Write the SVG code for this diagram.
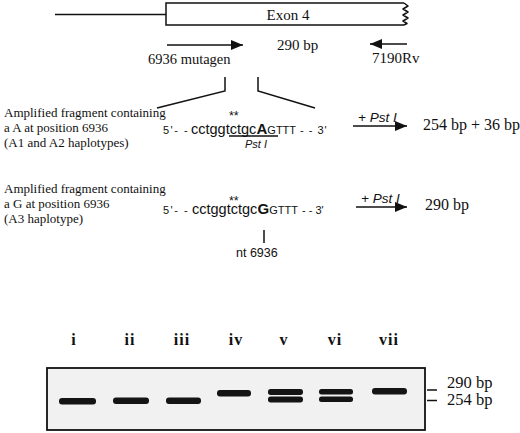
<svg xmlns="http://www.w3.org/2000/svg" width="520" height="433" viewBox="0 0 520 433">
<style>
.serif{font-family:"Liberation Serif","Times New Roman",serif;fill:#111}
.sans{font-family:"Liberation Sans",Arial,sans-serif;fill:#111}
.ln{stroke:#111;stroke-width:1.5;fill:none}
.band{fill:#141414}
.lane{font-family:"Liberation Serif","Times New Roman",serif;font-weight:bold;font-size:16px;fill:#111;text-anchor:middle;letter-spacing:1px}
.sm{font-size:11px}
.big{font-size:14.5px}
.bb{font-size:15px;font-weight:bold}
</style>
<defs>
<marker id="arr" viewBox="0 0 12 10" refX="12" refY="5" markerWidth="12" markerHeight="10" markerUnits="userSpaceOnUse" orient="auto">
<path d="M0,0 L12,5 L0,10 z" fill="#111"/>
</marker>
</defs>
<rect width="520" height="433" fill="#fff"/>

<g id="gene">
<line class="ln" x1="55" y1="14.5" x2="166" y2="14.5"/>
<path class="ln" d="M404,3 H166 V25 H404"/>
<path class="ln" stroke-linejoin="round" d="M404,3 L408,6 L403,9 L408,12 L403,15 L408,18 L403,21 L407,23.5 L404,25"/>
<text class="serif" x="288" y="20" font-size="15" text-anchor="middle">Exon 4</text>
</g>

<g id="primers">
<text class="serif" x="277" y="50" font-size="15">290 bp</text>
<text class="serif" x="148" y="64" font-size="14.5">6936 mutagen</text>
<text class="serif" x="372" y="63" font-size="15">7190Rv</text>
</g>

<g id="fragA">
<text class="serif" x="4" y="117" font-size="13">Amplified fragment containing</text>
<text class="serif" x="4" y="132" font-size="13">a A at position 6936</text>
<text class="serif" x="4" y="147" font-size="13">(A1 and A2 haplotypes)</text>
<text class="sans" x="229" y="120" font-size="12.5">**</text>
<text class="sans" x="163" y="134"><tspan class="sm" letter-spacing="1.5">5'- - </tspan><tspan x="191" class="big">cctggtctgc</tspan><tspan x="256.5" class="bb">A</tspan><tspan class="sm">GTTT</tspan><tspan x="300" class="sm" letter-spacing="1">- - 3'</tspan></text>
<line x1="229" y1="136" x2="278" y2="136" stroke="#111" stroke-width="1.3"/>
<text class="sans" x="245" y="148" font-size="11" font-style="italic">Pst I</text>
<text class="sans" x="358" y="122" font-size="13.5" font-style="italic">+ Pst I</text>
<text class="serif" x="423" y="130" font-size="16">254 bp + 36 bp</text>
</g>

<g id="fragG">
<text class="serif" x="4" y="193" font-size="13">Amplified fragment containing</text>
<text class="serif" x="4" y="208" font-size="13">a G at position 6936</text>
<text class="serif" x="4" y="223" font-size="13">(A3 haplotype)</text>
<text class="sans" x="229" y="205" font-size="12.5">**</text>
<text class="sans" x="163" y="214"><tspan class="sm" letter-spacing="1.5">5'- - </tspan><tspan x="192" class="big">cctggtctgc</tspan><tspan x="257.5" class="bb">G</tspan><tspan class="sm">GTTT</tspan><tspan x="302" class="sm">- - 3'</tspan></text>
<text class="sans" x="236" y="257" font-size="12.5">nt 6936</text>
<text class="sans" x="361" y="203" font-size="13.5" font-style="italic">+ Pst I</text>
<text class="serif" x="425" y="210" font-size="16">290 bp</text>
</g>

<g id="connectors">
<line class="ln" x1="167" y1="45" x2="243" y2="45" marker-end="url(#arr)"/>
<line class="ln" x1="407" y1="44" x2="370" y2="44" marker-end="url(#arr)"/>
<polyline class="ln" points="225,77 225,91 157,108"/>
<polyline class="ln" points="258,77 258,91 315,108"/>
<line class="ln" x1="353" y1="126" x2="407" y2="126" marker-end="url(#arr)"/>
<line class="ln" x1="356" y1="207" x2="407" y2="207" marker-end="url(#arr)"/>
<line class="ln" x1="264" y1="230" x2="264" y2="243"/>
</g>

<g id="gel">
<text class="lane" x="74" y="345">i</text>
<text class="lane" x="130" y="345">ii</text>
<text class="lane" x="182" y="345">iii</text>
<text class="lane" x="236" y="345">iv</text>
<text class="lane" x="284" y="345">v</text>
<text class="lane" x="335" y="345">vi</text>
<text class="lane" x="389" y="345">vii</text>
<rect x="47" y="368" width="378" height="62" fill="#f1f1f1" stroke="#111" stroke-width="1.8"/>
<rect class="band" x="59" y="398" width="37" height="6.5" rx="3"/>
<rect class="band" x="113" y="397.5" width="36" height="6.5" rx="3"/>
<rect class="band" x="166" y="397.5" width="35" height="6.5" rx="3"/>
<rect class="band" x="217" y="390" width="34" height="6.5" rx="3"/>
<rect class="band" x="268" y="389" width="35" height="6" rx="2.7"/>
<rect class="band" x="268" y="396.5" width="35" height="6" rx="2.7"/>
<rect class="band" x="319" y="389" width="34" height="5.5" rx="2.5"/>
<rect class="band" x="319" y="396.5" width="34" height="5.5" rx="2.5"/>
<rect class="band" x="372" y="388" width="35" height="6.5" rx="3"/>
<line class="ln" x1="427" y1="390" x2="437" y2="390"/>
<line class="ln" x1="427" y1="400.5" x2="437" y2="400.5"/>
<text class="serif" x="447" y="388" font-size="16.5">290 bp</text>
<text class="serif" x="447" y="405" font-size="16.5">254 bp</text>
</g>
</svg>
